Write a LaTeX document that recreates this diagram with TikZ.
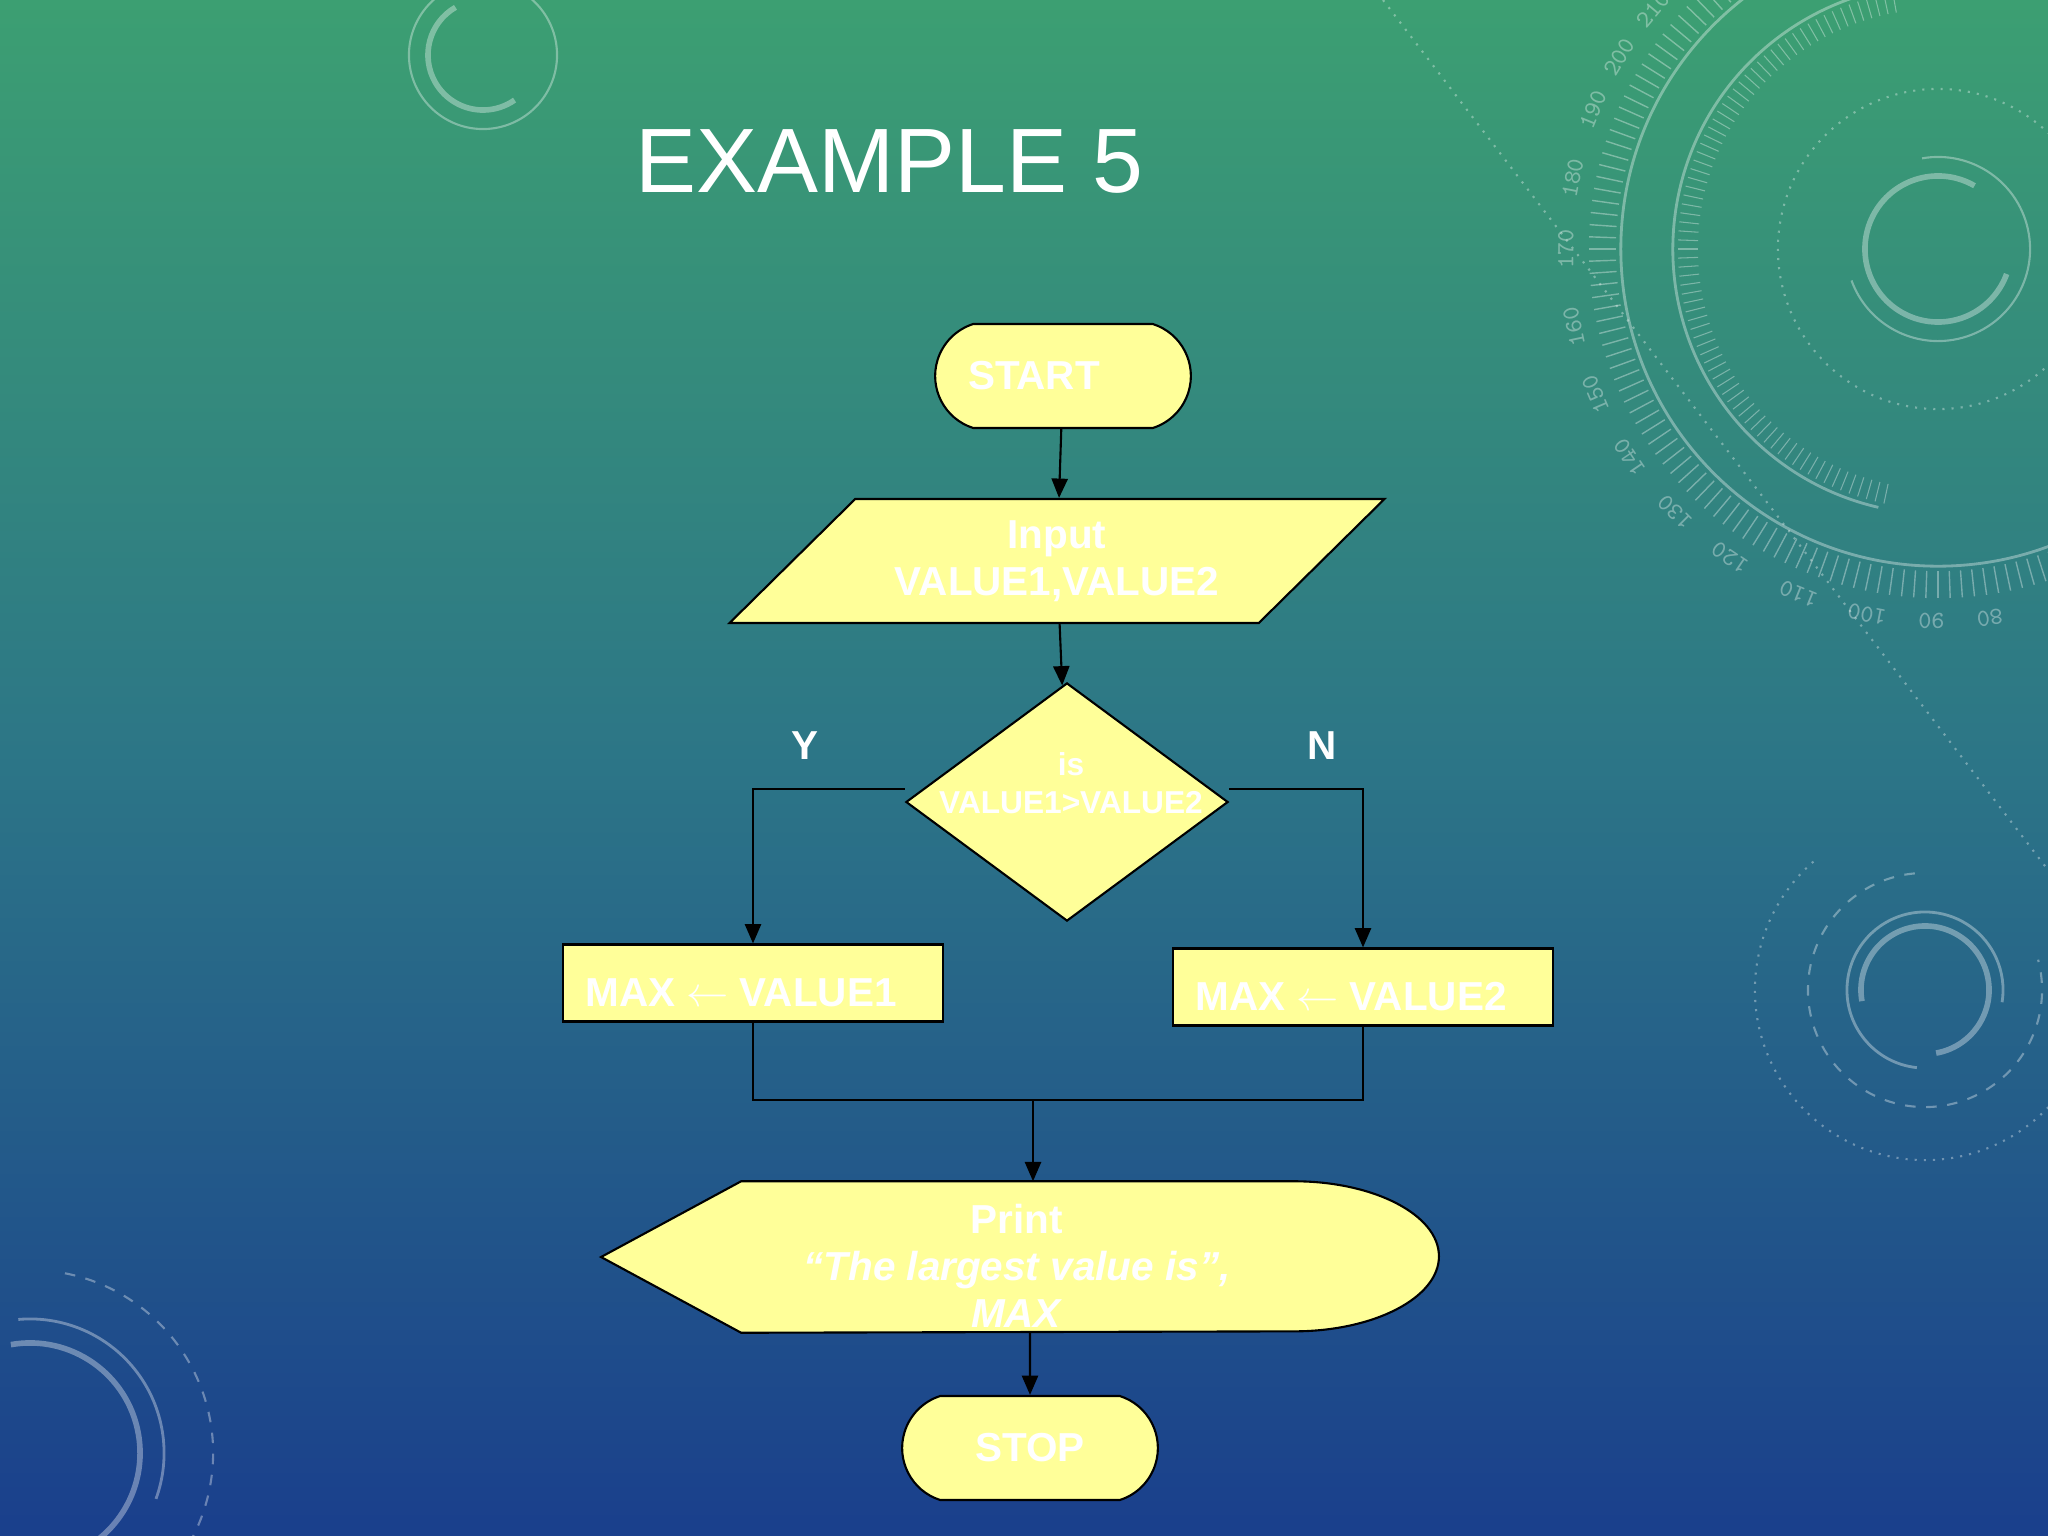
\documentclass[tikz,border=0pt]{standalone}
\usepackage{fontspec}
\setmainfont{Liberation Sans}
\usetikzlibrary{shapes.geometric, shapes.misc, arrows.meta, positioning}

\definecolor{boxfill}{HTML}{FFFF99}
\definecolor{bgtop}{HTML}{3C9F72}
\definecolor{bgmid}{HTML}{2C7587}
\definecolor{bgbot}{HTML}{1A3F8C}

\begin{document}
\begin{tikzpicture}[
    x = 0.01cm, y = -0.01cm,
    base/.style = {draw, fill=boxfill, line width=0.6pt, text=white, align=center,
                   font=\bfseries\fontsize{11.5}{13.4}\selectfont},
    terminal/.style = {base, rounded rectangle, rounded rectangle arc length=145,
                       minimum width=2.79cm, minimum height=1.04cm},
    io/.style = {base, trapezium, trapezium left angle=44, trapezium right angle=136,
                 trapezium stretches=true, minimum width=6.55cm, minimum height=1.24cm},
    decision/.style = {base, diamond, minimum width=3.22cm, minimum height=2.38cm, inner sep=0pt},
    process/.style = {base, rectangle, minimum width=3.8cm, minimum height=0.77cm,
                      inner ysep=0pt, text height=0.47cm},
    display/.style = {rectangle, minimum width=8.36cm, minimum height=1.5cm},
    label/.style = {text=white, align=center, font=\bfseries\fontsize{11.5}{13.4}\selectfont},
    small/.style = {text=white, align=center, font=\bfseries\fontsize{9}{10.8}\selectfont},
    arrow/.style = {->, >={Triangle[length=5.5pt, width=4.6pt]}, line width=0.6pt},
    line/.style = {line width=0.6pt},
    deco/.style = {white, opacity=0.35}
]

\useasboundingbox (0,0) rectangle (2048,1536);
\shade[top color=bgtop, bottom color=bgbot, middle color=bgmid] (0,0) rectangle (2048,1536);

% background rings
\begin{scope}[deco]
    \draw[line width=0.6pt] (483,55) circle[radius=0.74cm];
    \draw[line width=1.6pt] (483,55) ++(120:0.55cm) arc[start angle=120, end angle=305, radius=0.55cm];
    \draw[line width=0.8pt] (1938,249) circle[radius=3.17cm];
    \draw[line width=0.8pt] (1938,249) ++(80:2.65cm) arc[start angle=80, end angle=257, radius=2.65cm];
    \draw[line width=0.6pt, dotted] (1938,249) circle[radius=1.6cm];
    \draw[line width=1.6pt] (1938,249) ++(60:0.73cm) arc[start angle=60, end angle=340, radius=0.73cm];
    \draw[line width=0.6pt] (1938,249) ++(100:0.92cm) arc[start angle=100, end angle=-160, radius=0.92cm];
    \foreach \a in {96,98,...,350}
        \draw[line width=0.4pt] (1938,249) ++(\a:3.22cm) -- ++(\a:0.27cm);
    \foreach \a in {100,102,...,258}
        \draw[line width=0.3pt] (1938,249) ++(\a:2.4cm) -- ++(\a:0.2cm);
    \foreach \v/\ang in {80/278, 90/269, 100/259, 110/248, 120/236, 130/225, 140/214,
                         150/203, 160/192, 170/180, 180/169, 190/158, 200/149, 210/140}
        \path (1938,249) ++(\ang:3.72cm)
            node[rotate=\ang-90, inner sep=0pt, font=\ttfamily\fontsize{7}{7}\selectfont] (dial\v) {\v};
    \draw[line width=0.6pt, dotted] (1383,0) -- (2048,870);
    \draw[line width=1.6pt] (1925,990) ++(190:0.64cm) arc[start angle=190, end angle=-80, radius=0.64cm];
    \draw[line width=0.8pt] (1925,990) ++(264:0.78cm) arc[start angle=264, end angle=-9, radius=0.78cm];
    \draw[line width=0.6pt, dashed] (1925,990) ++(95:1.17cm) arc[start angle=95, end angle=375, radius=1.17cm];
    \draw[line width=0.6pt, dotted] (1925,990) ++(131:1.7cm) arc[start angle=131, end angle=330, radius=1.7cm];
    \draw[line width=1.6pt] (30,1453) ++(100:1.1cm) arc[start angle=100, end angle=-70, radius=1.1cm];
    \draw[line width=0.8pt] (30,1453) ++(95:1.34cm) arc[start angle=95, end angle=-20, radius=1.34cm];
    \draw[line width=0.6pt, dashed] (30,1453) ++(79:1.83cm) arc[start angle=79, end angle=-75, radius=1.83cm];
\end{scope}

% title
\node[anchor=base west, inner sep=0pt, text=white, font=\fontsize{26}{30}\selectfont] (title) at (635,192) {EXAMPLE 5};

% Define nodes
\node[terminal] (start) at (1063,376) {START\hspace*{0.58cm}};
\node[io] (input) at (1057,561) {Input\\VALUE1,VALUE2};
\node[decision] (dia) at (1067,802) {};
\node[small] (isq) at (1071,783) {is\\VALUE1>VALUE2};
\node[label] (yes) at (805,746) {Y};
\node[label] (no) at (1322,746) {N};
\node[process] (max1) at (753,983) {MAX $\leftarrow$ VALUE1\hspace*{0.24cm}};
\node[process] (max2) at (1363,987) {MAX $\leftarrow$ VALUE2\hspace*{0.24cm}};
\coordinate (merge) at (1033,1100);
\node[display] (print) at (1020,1257) {};
\draw[base] (print.west) -- ([xshift=1.4cm]print.north west) -- ([xshift=-1.45cm]print.north east)
    arc[start angle=90, end angle=-90, x radius=1.45cm, y radius=0.75cm]
    -- ([xshift=1.4cm]print.south west) -- cycle;
\node[label] (printtext) at (1017,1266) {Print\\\textit{“The largest value is”,}\\\textit{MAX}};
\node[terminal] (stop) at (1030,1448) {STOP};

% Draw arrows
\draw[arrow] (start) -- (input);
\draw[arrow] (input) -- (dia);
\draw[arrow] ([yshift=0.13cm]dia.west) -| (max1);
\draw[arrow] ([yshift=0.13cm]dia.east) -| (max2);
\draw[line] (max1) |- (merge) -| (max2);
\draw[arrow] (merge) -- (merge |- print.north);
\draw[arrow] (stop |- print.south) -- (stop);

\end{tikzpicture}
\end{document}
